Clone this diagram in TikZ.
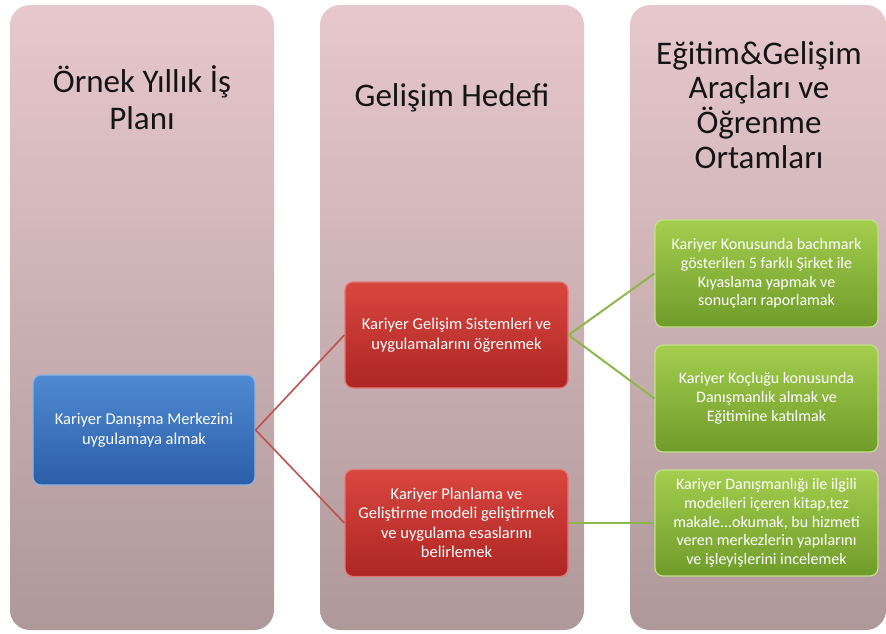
\documentclass[tikz,border=0pt]{standalone}
\usepackage{fontspec}
\setmainfont{Carlito}
\definecolor{colTop}{HTML}{E7C8CC}
\definecolor{colBot}{HTML}{AE989A}
\definecolor{blueTop}{HTML}{4F8AD2}
\definecolor{blueBot}{HTML}{2B5EA9}
\definecolor{blueEdge}{HTML}{8DB4E8}
\definecolor{redTop}{HTML}{D9463F}
\definecolor{redBot}{HTML}{AE2623}
\definecolor{redEdge}{HTML}{E07A75}
\definecolor{greenTop}{HTML}{A3CE4E}
\definecolor{greenBot}{HTML}{6F9B2A}
\definecolor{greenEdge}{HTML}{C2E08A}
\definecolor{redLine}{HTML}{C0504D}
\definecolor{greenLine}{HTML}{8DB84A}
\begin{document}
\begin{tikzpicture}[x=1pt,y=-1pt,
  column/.style={rounded corners=20pt,top color=colTop,bottom color=colBot,draw=none},
  title/.style={align=center,text=black!92,font=\fontsize{33}{37}\selectfont,inner sep=0pt},
  box/.style={rounded corners=8pt,align=center,text=white,inner sep=2pt,
    font=\fontsize{16.5}{19.5}\selectfont,minimum width=223pt,minimum height=107pt,line width=1.2pt},
  bluebox/.style={box,top color=blueTop,bottom color=blueBot,draw=blueEdge},
  redbox/.style={box,top color=redTop,bottom color=redBot,draw=redEdge},
  greenbox/.style={box,top color=greenTop,bottom color=greenBot,draw=greenEdge,
    font=\fontsize{16}{18.7}\selectfont},
  redconn/.style={draw=redLine,line width=1.6pt},
  greenconn/.style={draw=greenLine,line width=2pt}]
\useasboundingbox (0,0) rectangle (886,633);
\fill[white] (0,0) rectangle (886,633);
% columns
\path[column] (10,5) rectangle (274,630);
\path[column] (320,5) rectangle (584,630);
\path[column] (630,5) rectangle (886,630);
% titles
\node[title] (t1) at (142,98) {Örnek Yıllık İş\\Planı};
\node[title] (t2) at (452,98) {Gelişim Hedefi};
\node[title,font=\fontsize{33}{34.7}\selectfont] (t3) at (759,105) {Eğitim\&Gelişim\\Araçları ve\\Öğrenme\\Ortamları};
% boxes
\node[bluebox,minimum width=222pt,minimum height=110pt] (b) at (144,430) {Kariyer Danışma Merkezini\\uygulamaya almak};
\node[redbox,minimum height=106pt] (r1) at (456.5,335) {Kariyer Gelişim Sistemleri ve\\uygulamalarını öğrenmek};
\node[redbox] (r2) at (456.5,523) {Kariyer Planlama ve\\Geliştirme modeli geliştirmek\\ve uygulama esaslarını\\belirlemek};
\node[greenbox] (g1) at (766.5,273.5) {Kariyer Konusunda bachmark\\gösterilen 5 farklı Şirket ile\\Kıyaslama yapmak ve\\sonuçları raporlamak};
\node[greenbox] (g2) at (766.5,398.5) {Kariyer Koçluğu konusunda\\Danışmanlık almak ve\\Eğitimine katılmak};
\node[greenbox,minimum height=106pt] (g3) at (766.5,523) {Kariyer Danışmanlığı ile ilgili\\modelleri içeren kitap,tez\\makale...okumak, bu hizmeti\\veren merkezlerin yapılarını\\ve işleyişlerini incelemek};
% connectors
\draw[redconn] (b.east) -- (r1.west);
\draw[redconn] (b.east) -- (r2.west);
\draw[greenconn] (r1.east) -- (g1.west);
\draw[greenconn] (r1.east) -- (g2.west);
\draw[greenconn] (r2.east) -- (g3.west);
\end{tikzpicture}
\end{document}
